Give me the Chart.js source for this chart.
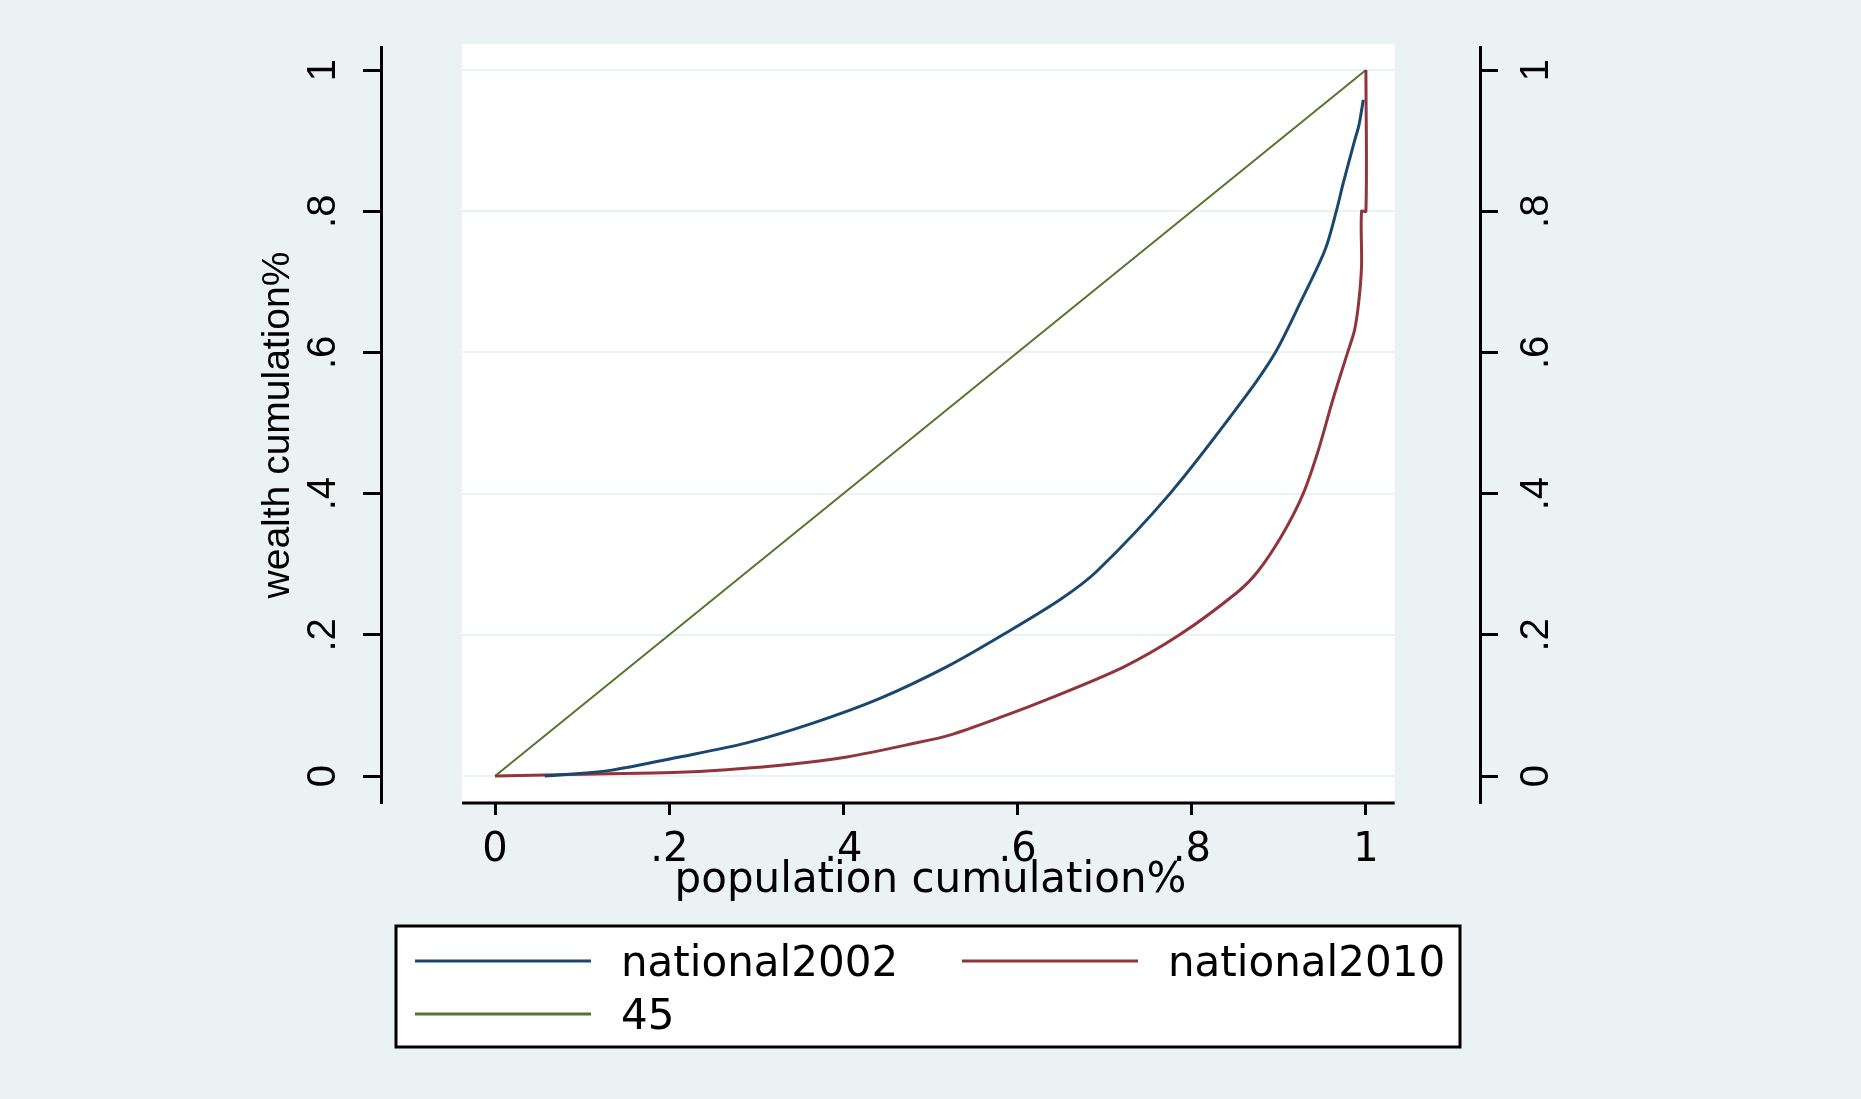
<!DOCTYPE html>
<html lang="en">
<head>
<meta charset="UTF-8">
<title>Lorenz curves: national2002 vs national2010</title>
<script src="https://cdn.jsdelivr.net/npm/chart.js"></script>
<style>
  html, body { margin: 0; padding: 0; background: #eaf2f3; }
  canvas { display: block; }
</style>
</head>
<body>
<canvas id="lorenzChart" width="1861" height="1099"></canvas>
<script>
  // cumulative population share (x) vs cumulative wealth share (y)
  const pop2002 = [0.057, 0.132, 0.212, 0.289, 0.365, 0.442, 0.519, 0.583, 0.649, 0.691,
                   0.775, 0.859, 0.896, 0.926, 0.953, 0.966, 0.974, 0.987, 0.992, 0.997];
  const wealth2002 = [0, 0.008, 0.027, 0.047, 0.075, 0.110, 0.155, 0.200, 0.250, 0.290,
                      0.400, 0.533, 0.600, 0.674, 0.745, 0.800, 0.840, 0.900, 0.922, 0.958];

  const pop2010 = [0, 0.117, 0.204, 0.266, 0.342, 0.404, 0.480, 0.522, 0.580, 0.629, 0.721,
                   0.786, 0.852, 0.876, 0.905, 0.928, 0.945, 0.962, 0.979, 0.987, 0.992,
                   0.995, 0.995, 1.000, 1.000];
  const wealth2010 = [0, 0.003, 0.005, 0.009, 0.017, 0.027, 0.046, 0.058, 0.083, 0.106, 0.154,
                      0.200, 0.260, 0.290, 0.344, 0.400, 0.460, 0.533, 0.600, 0.632, 0.674,
                      0.724, 0.800, 0.800, 1.000];

  const pop45 = [0, 1];
  const wealth45 = [0, 1];

  const seriesNames = ['national2002', 'national2010', '45'];

  const xTicks = [0, 0.2, 0.4, 0.6, 0.8, 1];
  const xTickLabels = ['0', '.2', '.4', '.6', '.8', '1'];
  const yTicks = [0, 0.2, 0.4, 0.6, 0.8, 1];
  const yTickLabels = ['0', '.2', '.4', '.6', '.8', '1'];

  const toPoints = (xs, ys) => xs.map((x, i) => ({ x: x, y: ys[i] }));

  const gridColor = '#eaf2f3';
  const plotRegion = { x0: -0.038, x1: 1.033, y0: -0.038, y1: 1.037 };

  // white plot region, horizontal grid lines, and an x axis line that only spans the region
  const stataFrame = {
    id: 'stataFrame',
    beforeDraw(chart) {
      const { ctx, scales: { x, y } } = chart;
      const left = x.getPixelForValue(plotRegion.x0);
      const right = x.getPixelForValue(plotRegion.x1);
      const top = y.getPixelForValue(plotRegion.y1);
      const bottom = y.getPixelForValue(plotRegion.y0);
      ctx.save();
      ctx.fillStyle = '#ffffff';
      ctx.fillRect(left, top, right - left, bottom - top);
      ctx.strokeStyle = gridColor;
      ctx.lineWidth = 2;
      yTicks.forEach(v => {
        const py = Math.round(y.getPixelForValue(v));
        ctx.beginPath();
        ctx.moveTo(left, py);
        ctx.lineTo(right, py);
        ctx.stroke();
      });
      ctx.restore();
    },
    afterDraw(chart) {
      const { ctx, chartArea, scales: { x } } = chart;
      ctx.save();
      ctx.strokeStyle = '#000';
      ctx.lineWidth = 3;
      ctx.beginPath();
      ctx.moveTo(x.getPixelForValue(plotRegion.x0), chartArea.bottom);
      ctx.lineTo(x.getPixelForValue(plotRegion.x1), chartArea.bottom);
      ctx.stroke();
      ctx.restore();
    }
  };

  // boxed two-column legend like Stata's
  const boxLegend = {
    id: 'boxLegend',
    afterDraw(chart, args, opts) {
      const { ctx } = chart;
      const b = opts.box;
      ctx.save();
      ctx.fillStyle = '#ffffff';
      ctx.fillRect(b.left, b.top, b.right - b.left, b.bottom - b.top);
      ctx.strokeStyle = '#000';
      ctx.lineWidth = 3;
      ctx.strokeRect(b.left, b.top, b.right - b.left, b.bottom - b.top);
      ctx.font = '42px "DejaVu Sans"';
      ctx.fillStyle = '#000';
      ctx.textBaseline = 'alphabetic';
      chart.data.datasets.forEach((ds, i) => {
        const [sx, sy] = opts.slots[i];
        ctx.strokeStyle = ds.borderColor;
        ctx.lineWidth = 3;
        ctx.beginPath();
        ctx.moveTo(sx, sy);
        ctx.lineTo(sx + opts.sampleLength, sy);
        ctx.stroke();
        ctx.fillText(ds.label, sx + opts.sampleLength + opts.gap, sy + 15);
      });
      ctx.restore();
    }
  };

  const yAxis = (position, width, withTitle) => ({
    type: 'linear',
    position: position,
    min: -0.0382,
    max: 1.0326,
    afterBuildTicks: s => { s.ticks = yTicks.map(v => ({ value: v })); },
    afterFit: s => { s.width = width; },
    ticks: {
      callback: (v, i) => yTickLabels[i],
      font: { family: 'Liberation Sans', size: 40 },
      color: '#000',
      minRotation: 90,
      maxRotation: 90,
      crossAlign: 'center',
      padding: 22
    },
    grid: {
      drawOnChartArea: false,
      drawTicks: true,
      tickLength: 18,
      tickColor: '#000',
      tickWidth: 3
    },
    border: { display: true, color: '#000', width: 3 },
    title: {
      display: withTitle,
      text: 'wealth cumulation%',
      font: { family: 'Liberation Sans', size: 39 },
      color: '#000',
      padding: { top: 4, bottom: 0 }
    }
  });

  Chart.defaults.color = '#000';

  new Chart(document.getElementById('lorenzChart'), {
    type: 'line',
    data: {
      datasets: [
        {
          label: seriesNames[0],
          data: toPoints(pop2002, wealth2002),
          borderColor: '#1a476f',
          borderWidth: 3
        },
        {
          label: seriesNames[1],
          data: toPoints(pop2010, wealth2010),
          borderColor: '#90353b',
          borderWidth: 3
        },
        {
          label: seriesNames[2],
          data: toPoints(pop45, wealth45),
          borderColor: '#55752f',
          borderWidth: 2
        }
      ]
    },
    options: {
      responsive: false,
      animation: false,
      events: [],
      layout: { padding: { left: 251, right: 281, top: 47, bottom: 186 } },
      elements: { point: { radius: 0 }, line: { tension: 0.3 } },
      scales: {
        x: {
          type: 'linear',
          min: -0.131,
          max: 1.131,
          afterBuildTicks: s => { s.ticks = xTicks.map(v => ({ value: v })); },
          afterFit: s => { s.height = 110; },
          ticks: {
            callback: (v, i) => xTickLabels[i],
            font: { family: 'DejaVu Sans', size: 40 },
            color: '#000',
            maxRotation: 0,
            autoSkip: false,
            padding: 12
          },
          grid: {
            drawOnChartArea: false,
            drawTicks: true,
            tickLength: 12,
            tickColor: '#000',
            tickWidth: 3
          },
          border: { display: false },
          title: {
            display: true,
            text: 'population cumulation%',
            font: { family: 'DejaVu Sans', size: 42 },
            color: '#000',
            padding: { top: 0, bottom: 7 }
          }
        },
        y: yAxis('left', 130, true),
        y2: yAxis('right', 100, false)
      },
      plugins: {
        legend: { display: false },
        tooltip: { enabled: false },
        boxLegend: {
          box: { left: 396, top: 926, right: 1460, bottom: 1047 },
          slots: [[415, 961], [962, 961], [415, 1014]],
          sampleLength: 176,
          gap: 30
        }
      }
    },
    plugins: [stataFrame, boxLegend]
  });
</script>
</body>
</html>
